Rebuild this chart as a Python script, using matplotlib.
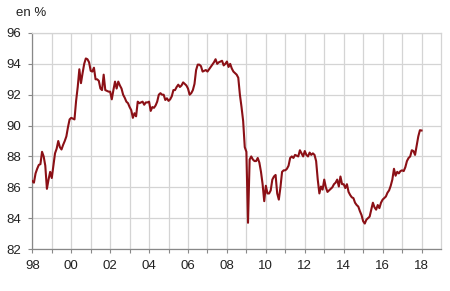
import numpy as np
import matplotlib
matplotlib.use("Agg")
import matplotlib.pyplot as plt

# monthly values, Jan 1998 .. Jan 2018 (en %)
y1998 = [86.4, 86.3, 86.9, 87.2, 87.45, 87.5, 88.3, 88.0, 87.4, 85.9, 86.5, 87.0]
y1999 = [86.6, 87.4, 88.2, 88.5, 89.0, 88.6, 88.45, 88.75, 89.0, 89.3, 89.9, 90.4]
y2000 = [90.5, 90.45, 90.4, 91.6, 92.5, 93.65, 92.75, 93.4, 94.0, 94.35, 94.3, 94.1]
y2001 = [93.55, 93.5, 93.75, 93.0, 93.0, 92.9, 92.4, 92.3, 93.3, 92.3, 92.25, 92.2]
y2002 = [92.2, 91.7, 92.3, 92.85, 92.4, 92.85, 92.6, 92.4, 92.0, 91.8, 91.55, 91.45]
y2003 = [91.2, 91.0, 90.5, 90.8, 90.6, 91.55, 91.45, 91.5, 91.55, 91.35, 91.5, 91.5]
y2004 = [91.55, 90.95, 91.2, 91.15, 91.3, 91.55, 92.0, 92.1, 92.0, 92.0, 91.66, 91.77]
y2005 = [91.6, 91.7, 91.9, 92.3, 92.3, 92.5, 92.65, 92.5, 92.6, 92.8, 92.7, 92.6]
y2006 = [92.4, 92.0, 92.1, 92.3, 92.7, 93.6, 93.95, 93.95, 93.85, 93.5, 93.55, 93.6]
y2007 = [93.5, 93.65, 93.8, 93.95, 94.1, 94.3, 94.0, 94.1, 94.15, 94.2, 93.9, 94.0]
y2008 = [94.15, 93.8, 94.0, 93.7, 93.5, 93.4, 93.3, 93.1, 92.0, 91.2, 90.3, 88.6]
y2009 = [88.3, 83.7, 87.8, 88.0, 87.8, 87.7, 87.7, 87.9, 87.6, 87.0, 86.2, 85.1]
y2010 = [86.1, 85.6, 85.6, 85.8, 86.5, 86.7, 86.8, 85.6, 85.2, 86.0, 87.0, 87.1]
y2011 = [87.1, 87.2, 87.4, 87.9, 88.0, 87.9, 88.1, 88.05, 88.0, 88.4, 88.2, 88.0]
y2012 = [88.35, 88.1, 88.0, 88.25, 88.1, 88.2, 88.1, 87.7, 86.5, 85.6, 86.05, 85.85]
y2013 = [86.5, 86.0, 85.7, 85.8, 85.9, 86.0, 86.2, 86.3, 86.5, 86.05, 86.7, 86.2]
y2014 = [86.2, 85.95, 86.2, 85.7, 85.5, 85.35, 85.3, 85.0, 84.85, 84.75, 84.45, 84.2]
y2015 = [83.8, 83.65, 83.9, 84.0, 84.1, 84.55, 85.0, 84.7, 84.55, 84.85, 84.65, 85.0]
y2016 = [85.2, 85.3, 85.4, 85.65, 85.8, 86.1, 86.5, 87.2, 86.75, 87.0, 86.9, 87.05]
y2017 = [87.1, 87.05, 87.3, 87.7, 87.9, 88.0, 88.4, 88.35, 88.1, 88.7, 89.3, 89.7]
y2018 = [89.68]

values = (y1998 + y1999 + y2000 + y2001 + y2002 + y2003 + y2004 + y2005 + y2006
          + y2007 + y2008 + y2009 + y2010 + y2011 + y2012 + y2013 + y2014
          + y2015 + y2016 + y2017 + y2018)
dates = 1998 + np.arange(len(values)) / 12.0

years = list(range(1998, 2019))
year_labels = [f"{y % 100:02d}" if y % 2 == 0 else "" for y in years]
y_ticks = [82, 84, 86, 88, 90, 92, 94, 96]

plt.rcParams["font.family"] = ["Liberation Sans", "DejaVu Sans"]

fig = plt.figure(figsize=(4.5, 2.91), dpi=100)
ax = fig.add_axes([0.0718, 0.1443, 0.9082, 0.7423])

ax.plot(dates, values, color="#8b1016", linewidth=1.5, zorder=3)

ax.set_xlim(1998, 2019)
ax.set_ylim(82, 96)
ax.set_xticks(years)
ax.set_xticklabels(year_labels)
ax.set_yticks(y_ticks)
ax.grid(True, color="#d4d4d4", linewidth=0.9)
ax.set_axisbelow(True)

for side in ["top", "right"]:
    ax.spines[side].set_color("#d4d4d4")
    ax.spines[side].set_linewidth(0.9)
for side in ["left", "bottom"]:
    ax.spines[side].set_color("#888888")
    ax.spines[side].set_linewidth(0.9)

ax.tick_params(axis="both", direction="out", length=3, width=0.8,
               color="#888888", labelsize=9.5, labelcolor="#222222")
ax.tick_params(axis="x", pad=5)
ax.tick_params(axis="y", pad=5)

fig.text(16 / 450, 1 - 13 / 291, "en %", fontsize=9.5, color="#222222",
         ha="left", va="center")

fig.savefig("out.png", dpi=100)
